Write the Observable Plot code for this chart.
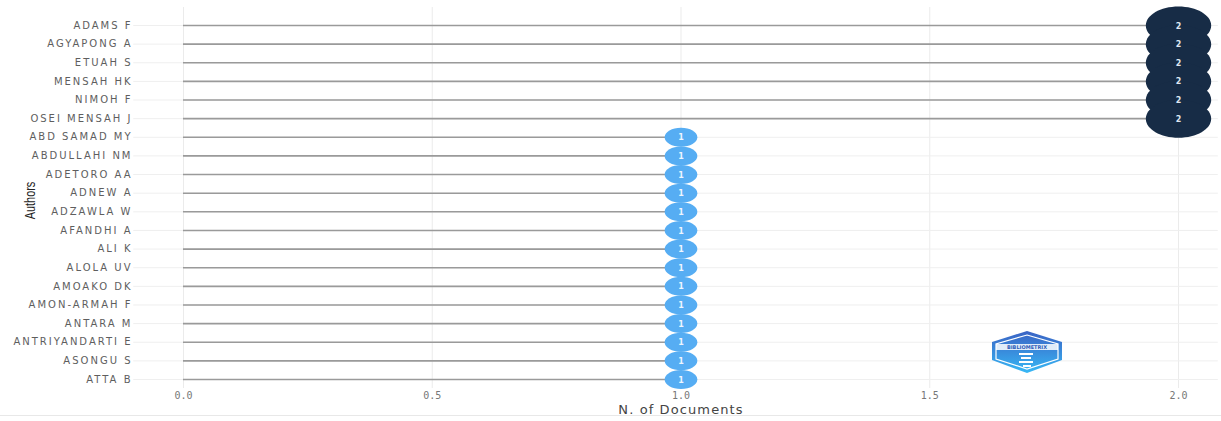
<!DOCTYPE html>
<html>
<head>
<meta charset="utf-8">
<script src="https://cdn.jsdelivr.net/npm/d3@7"></script>
<script src="https://cdn.jsdelivr.net/npm/@observablehq/plot@0.6"></script>
<style>
  html, body { margin: 0; padding: 0; background: #fff; }
  #wrap { position: relative; width: 1221px; height: 421px; overflow: hidden; }
  #logo { position: absolute; left: 989px; top: 330px; }
  #border { position: absolute; left: 0; top: 415px; width: 1221px; height: 1px; background: #e8e8e8; }
</style>
</head>
<body>
<div id="wrap">
  <div id="chart"></div>
  <div id="border"></div>
  <svg id="logo" width="76" height="44" viewBox="0 0 76 44">
    <defs>
      <linearGradient id="lg" x1="0" y1="0" x2="0" y2="1">
        <stop offset="0" stop-color="#3a62c4"/>
        <stop offset="1" stop-color="#38b8f5"/>
      </linearGradient>
    </defs>
    <polygon points="38,1 73,12 73,30 38,43 3,30 3,12" fill="url(#lg)"/>
    <polygon points="38,5 69,14 69,29 38,39 7,29 7,14" fill="none" stroke="#ffffff" stroke-width="1.2"/>
    <rect x="7" y="14" width="62" height="6" fill="#ffffff" opacity="0.85"/>
    <text x="38" y="19" text-anchor="middle" font-family="DejaVu Sans" font-size="5" font-weight="bold" fill="#2c5cb8">BIBLIOMETRIX</text>
    <path d="M30,24 h14 M32,28 h10 M30,32 h14 M34,36 h8" stroke="#ffffff" stroke-width="2" fill="none"/>
  </svg>
</div>
<script>
const authors = [
  "ADAMS F", "AGYAPONG A", "ETUAH S", "MENSAH HK", "NIMOH F", "OSEI MENSAH J",
  "ABD SAMAD MY", "ABDULLAHI NM", "ADETORO AA", "ADNEW A", "ADZAWLA W", "AFANDHI A",
  "ALI K", "ALOLA UV", "AMOAKO DK", "AMON-ARMAH F", "ANTARA M", "ANTRIYANDARTI E",
  "ASONGU S", "ATTA B"
];
const docs = [2, 2, 2, 2, 2, 2, 1, 1, 1, 1, 1, 1, 1, 1, 1, 1, 1, 1, 1, 1];
const xTicks = [0, 0.5, 1, 1.5, 2];
const xTickLabels = ["0.0", "0.5", "1.0", "1.5", "2.0"];

const data = authors.map((a, i) => ({author: a, n: docs[i]}));

// ellipse symbol (wider than tall)
const ellipse = {
  draw(context, size) {
    const r = Math.sqrt(size / Math.PI);
    const rx = r * 1.72, ry = r;
    const k = 0.5523;
    context.moveTo(rx, 0);
    context.bezierCurveTo(rx, ry * k, rx * k, ry, 0, ry);
    context.bezierCurveTo(-rx * k, ry, -rx, ry * k, -rx, 0);
    context.bezierCurveTo(-rx, -ry * k, -rx * k, -ry, 0, -ry);
    context.bezierCurveTo(rx * k, -ry, rx, -ry * k, rx, 0);
    context.closePath();
  }
};

const chart = Plot.plot({
  width: 1221,
  height: 421,
  marginLeft: 183,
  marginRight: 43,
  marginTop: 7,
  marginBottom: 33,
  style: {background: "transparent", overflow: "visible", fontFamily: "DejaVu Sans", fontSize: "10px"},
  x: {domain: [0, 2], label: null},
  y: {type: "point", domain: authors, range: [25, 379], padding: 0, round: false, label: null},
  r: {type: "linear", domain: [0, 2], range: [0, 19]},
  marks: [
    Plot.gridX(xTicks, {stroke: "#ebebeb", strokeOpacity: 1, strokeWidth: 1}),
    Plot.ruleY(authors, {y: d => d, x1: -0.1, x2: 2.08, stroke: "#efefef", strokeWidth: 1}),
    Plot.ruleY(data, {y: "author", x1: 0, x2: "n", stroke: "#9a9a9a", strokeWidth: 1.6}),
    Plot.dot(data, {
      x: "n", y: "author", r: "n", symbol: ellipse,
      fill: d => d.n === 2 ? "#172c46" : "#56adf3", stroke: null
    }),
    Plot.text(data, {
      x: "n", y: "author", text: d => String(d.n),
      fill: d => d.n === 2 ? "#dfe6ef" : "#eef6ff",
      fontSize: 8, fontWeight: "bold", dy: 0.5
    }),
    Plot.axisY({tickSize: 0, tickPadding: 51, fontSize: 10, color: "#5e5e5e", label: null}),
    Plot.axisX({ticks: xTicks, tickFormat: (d) => xTickLabels[xTicks.indexOf(d)], tickSize: 0, tickPadding: 3, fontSize: 10, color: "#777", label: null}),
    Plot.text(["N. of Documents"], {frameAnchor: "bottom", dy: 25, fontSize: 13, fill: "#444", textAnchor: "middle", className: "xtitle"}),
    Plot.text(["Authors"], {frameAnchor: "left", textAnchor: "middle", dx: -153, dy: 2.5, rotate: -90, fontSize: 14, fontFamily: "Liberation Sans", fill: "#222", className: "ytitle"})
  ]
});
chart.querySelectorAll('g[aria-label="y-axis tick label"] text').forEach(t => t.setAttribute("letter-spacing", "2px"));
chart.querySelectorAll('g[aria-label="x-axis tick label"] text').forEach(t => t.setAttribute("font-family", "DejaVu Sans Mono"));
chart.querySelectorAll('.xtitle text').forEach(t => t.setAttribute("letter-spacing", "1.1px"));
chart.querySelectorAll('.ytitle text').forEach(t => {
  const tr = t.getAttribute("transform") || "";
  t.setAttribute("transform", tr + " scale(0.78,1)");
});
document.getElementById("chart").appendChild(chart);
</script>
</body>
</html>
